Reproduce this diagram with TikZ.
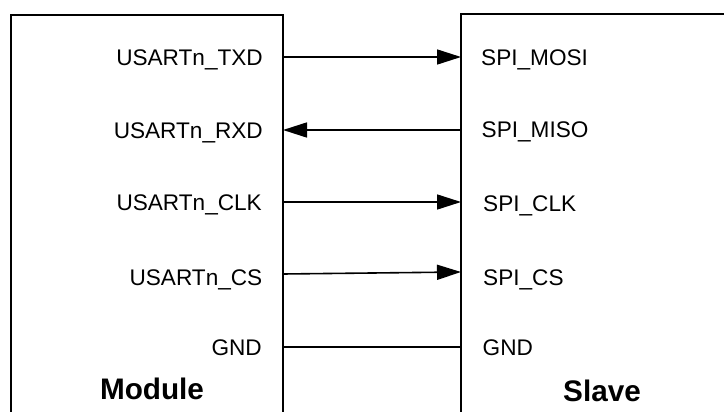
\documentclass[tikz,border=0pt]{standalone}
\usepackage{fontspec}
\setmainfont{Liberation Sans}
\usetikzlibrary{arrows.meta}
\begin{document}
\begin{tikzpicture}[x=1pt,y=-1pt,
  wire/.style={line width=1.6pt},
  sig/.style={wire,-{Triangle[length=24pt,width=15pt]}},
  pin/.style={inner sep=0pt,font=\fontsize{22.6}{27}\selectfont},
  title/.style={inner sep=0pt,font=\fontsize{29.7}{35}\selectfont\bfseries}]
\useasboundingbox (0,0) rectangle (724,412);
\clip (0,0) rectangle (724,412);
\fill[white] (0,0) rectangle (724,412);

% the two blocks (they run past the lower and right edges)
\draw[wire] (11,440) |- (283,15) -- (283,440);
\draw[wire] (461,440) |- (760,14);

% pins of the module
\coordinate (mtx)  at (283,57);
\coordinate (mrx)  at (283,130);
\coordinate (mclk) at (283,202);
\coordinate (mcs)  at (283,274);
\coordinate (mgnd) at (283,347);
% pins of the slave
\coordinate (smosi) at (461,57);
\coordinate (smiso) at (461,130);
\coordinate (sclk)  at (461,202);
\coordinate (scs)   at (461,272);
\coordinate (sgnd)  at (461,347);

% pin labels
\node[pin,anchor=base east] (ltx)  at (263,65.7) {USARTn\_TXD};
\node[pin,anchor=base east] (lrx)  at (263,138.3) {USARTn\_RXD};
\node[pin,anchor=base east] (lclk) at (262,210) {USARTn\_CLK};
\node[pin,anchor=base east] (lcs)  at (262.5,285) {USARTn\_CS};
\node[pin,anchor=base east] (lgnd) at (262,355) {GND};

\node[pin,anchor=base west] (rmosi) at (481,65.7) {SPI\_MOSI};
\node[pin,anchor=base west] (rmiso) at (481.5,137.3) {SPI\_MISO};
\node[pin,anchor=base west] (rclk)  at (483,211.7) {SPI\_CLK};
\node[pin,anchor=base west] (rcs)   at (483,285) {SPI\_CS};
\node[pin,anchor=base west] (rgnd)  at (482.5,355) {GND};

% block titles
\node[title,anchor=base] (tmod) at (152,399) {Module};
\node[title,anchor=base] (tsl)  at (602,401) {Slave};

% connections
\draw[sig]  (mtx)   -- (smosi);
\draw[sig]  (smiso) -- (mrx);
\draw[sig]  (mclk)  -- (sclk);
\draw[sig]  (mcs)   -- (scs);
\draw[wire] (mgnd)  -- (sgnd);
\end{tikzpicture}
\end{document}
